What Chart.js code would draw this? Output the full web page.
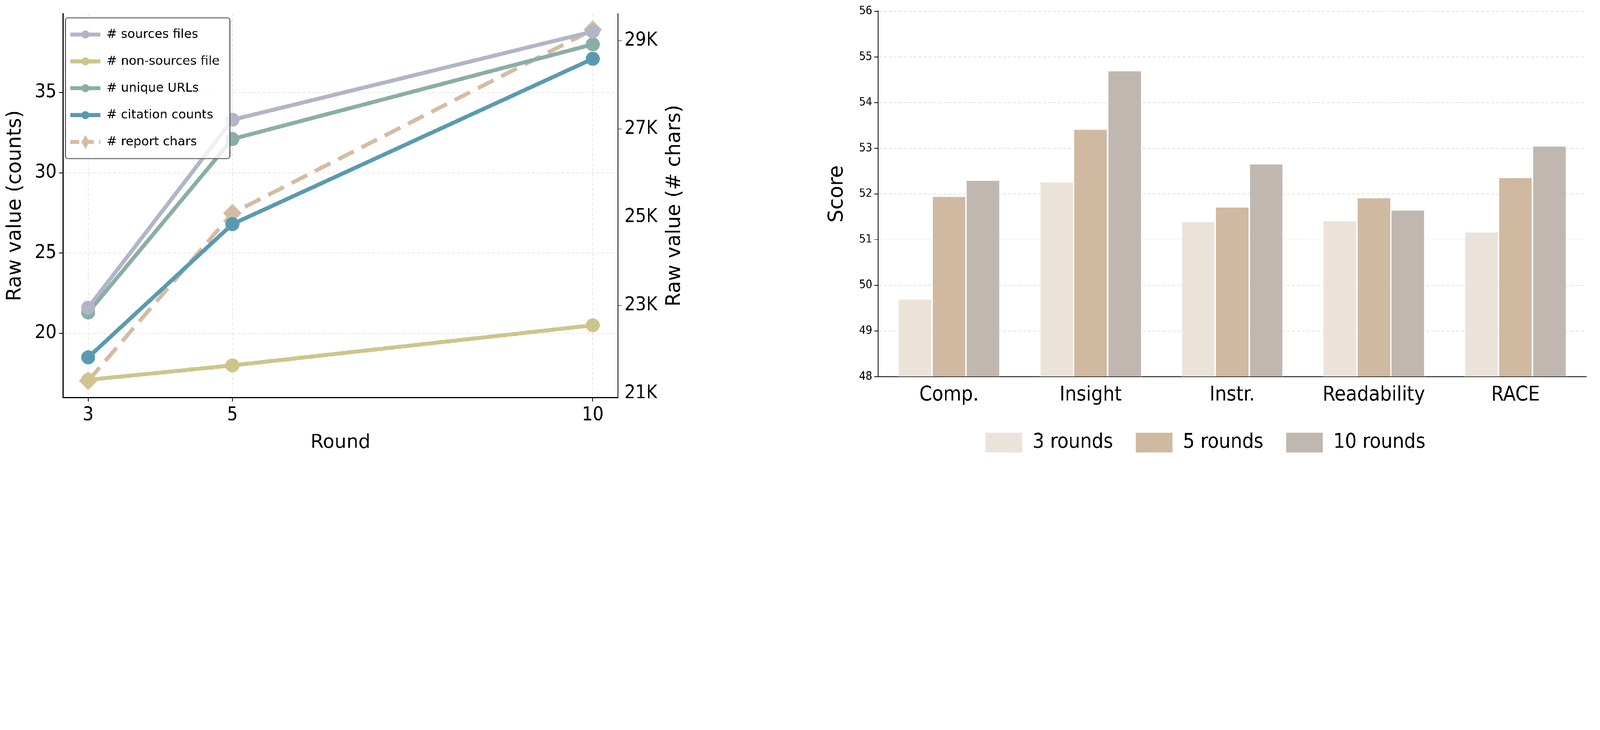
<!DOCTYPE html>
<html lang="en">
<head>
<meta charset="UTF-8"/>
<title>Rounds</title>
<style>
  body { margin: 0; background: #fff; overflow: hidden; }
  #wrap { position: absolute; left: 0; top: 0; width: 6426px; height: 1870px; transform-origin: 0 0; }
  #left { position: absolute; left: 0; top: 0; }
  #right { position: absolute; left: 3300px; top: 0; }
</style>
<script src="https://cdn.jsdelivr.net/npm/chart.js"></script>
</head>
<body>
<div id="wrap">
<canvas id="left" width="2760" height="1870"></canvas>
<canvas id="right" width="3126" height="1870"></canvas>
</div>
<script>
// left chart data
const rounds = [3, 5, 10];
const sourcesFiles = [21.6, 33.3, 38.8];
const nonSourcesFiles = [17.1, 18.0, 20.5];
const uniqueUrls = [21.3, 32.1, 38.0];
const citationCounts = [18.5, 26.8, 37.1];
const reportChars = [21290, 25090, 29250];
const charTicks = [21000, 23000, 25000, 27000, 29000];

// right chart data
const metrics = ['Comp.', 'Insight', 'Instr.', 'Readability', 'RACE'];
const score3 = [49.7, 52.27, 51.4, 51.42, 51.17];
const score5 = [51.95, 53.42, 51.72, 51.92, 52.36];
const score10 = [52.3, 54.7, 52.66, 51.65, 53.05];

// fit the 6426x1870 design into whatever window we get
const sc = Math.min(window.innerWidth / 6426, window.innerHeight / 1870);
document.getElementById('wrap').style.transform = 'scale(' + sc + ')';

const FONT = "'DejaVu Sans Condensed', 'DejaVu Sans', sans-serif";
const FONT_W = "'DejaVu Sans', sans-serif";
Chart.defaults.font.family = FONT;
Chart.defaults.color = '#000';

const pts = arr => arr.map((v, i) => ({x: rounds[i], y: v}));
const line = (label, data, color, axis, extra) => Object.assign({
  label, data: pts(data), borderColor: color, backgroundColor: color,
  borderWidth: 16, pointRadius: 20, pointHoverRadius: 20, yAxisID: axis, tension: 0
}, extra || {});

// legend inside plot (top left) + right axis title reading upwards
const leftExtras = {
  id: 'leftExtras',
  afterDraw(chart) {
    const c = chart.ctx, a = chart.chartArea;
    const x0 = a.left + 10, y0 = a.top + 16, w = 660, rowH = 108, h = rowH * 5 + 26;
    c.save();
    c.fillStyle = 'rgba(255,255,255,0.8)';
    c.strokeStyle = '#666'; c.lineWidth = 4;
    c.beginPath(); c.roundRect(x0, y0, w, h, 10); c.fill(); c.stroke();
    c.font = '50px ' + FONT_W; c.textBaseline = 'middle';
    chart.data.datasets.forEach((d, i) => {
      const cy = y0 + 13 + rowH * i + rowH / 2;
      c.strokeStyle = d.borderColor; c.lineWidth = 16;
      c.setLineDash(d.borderDash ? [36, 22] : []);
      c.beginPath(); c.moveTo(x0 + 20, cy); c.lineTo(x0 + 140, cy); c.stroke();
      c.setLineDash([]);
      c.fillStyle = d.backgroundColor;
      c.beginPath();
      if (d.pointStyle === 'rectRot') {
        c.moveTo(x0 + 80, cy - 28); c.lineTo(x0 + 96, cy); c.lineTo(x0 + 80, cy + 28); c.lineTo(x0 + 64, cy);
      } else c.arc(x0 + 80, cy, 16, 0, Math.PI * 2);
      c.fill();
      c.fillStyle = '#000';
      c.fillText(d.label, x0 + 165, cy);
    });
    c.translate(2710, (a.top + a.bottom) / 2);
    c.rotate(-Math.PI / 2);
    c.textAlign = 'center'; c.font = '80px ' + FONT_W;
    c.fillText('Raw value (# chars)', 0, 0);
    c.restore();
  }
};

new Chart(document.getElementById('left'), {
  type: 'line',
  data: { datasets: [
    line('# sources files', sourcesFiles, '#b1b5c8', 'y'),
    line('# non-sources file', nonSourcesFiles, '#cdc68a', 'y'),
    line('# unique URLs', uniqueUrls, '#8aaea5', 'y'),
    line('# citation counts', citationCounts, '#5a9ab0', 'y'),
    line('# report chars', reportChars, '#d4bca3', 'y2',
      {borderDash: [70, 35], pointStyle: 'rectRot', pointRadius: 26, pointHoverRadius: 26})
  ]},
  options: {
    responsive: false, animation: false, devicePixelRatio: 1,
    layout: { padding: { left: 10, top: 33, right: 110, bottom: 40 } },
    plugins: { legend: { display: false }, tooltip: { enabled: false } },
    scales: {
      x: {
        type: 'linear', min: 2.65, max: 10.35,
        afterBuildTicks: s => { s.ticks = rounds.map(v => ({value: v})); },
        grid: { color: '#e6e6e6', lineWidth: 3, tickColor: '#000', tickLength: 16 },
        border: { color: '#000', width: 4, dash: [12, 8] },
        ticks: { font: { size: 76 }, padding: 10 },
        title: { display: true, text: 'Round', font: { size: 76, family: FONT_W }, padding: { top: 10 } }
      },
      y: {
        position: 'left', min: 16.0, max: 39.9,
        afterBuildTicks: s => { s.ticks = [20, 25, 30, 35].map(v => ({value: v})); },
        grid: { color: '#e6e6e6', lineWidth: 3, tickColor: '#000', tickLength: 16 },
        border: { color: '#000', width: 4, dash: [12, 8] },
        ticks: { font: { size: 76 }, padding: 10 },
        title: { display: true, text: 'Raw value (counts)', font: { size: 80, family: FONT_W }, padding: { bottom: 20 } }
      },
      y2: {
        position: 'right', min: 20910, max: 29610,
        afterBuildTicks: s => { s.ticks = charTicks.map(v => ({value: v})); },
        grid: { drawOnChartArea: false, tickColor: '#000', tickLength: 16 },
        border: { color: '#000', width: 4 },
        ticks: { font: { size: 76 }, padding: 10, callback: v => (v / 1000) + 'K' }
      }
    }
  },
  plugins: [leftExtras]
});

new Chart(document.getElementById('right'), {
  type: 'bar',
  data: { labels: metrics, datasets: [
    { label: '3 rounds', data: score3, backgroundColor: '#ebe3da' },
    { label: '5 rounds', data: score5, backgroundColor: '#cfb9a0' },
    { label: '10 rounds', data: score10, backgroundColor: '#c0b8b0' }
  ].map(d => Object.assign(d, { borderColor: '#fff', borderWidth: 3, categoryPercentage: 0.72, barPercentage: 1.0 })) },
  options: {
    responsive: false, animation: false, devicePixelRatio: 1,
    layout: { padding: { left: 10, top: 45, right: 55, bottom: 40 } },
    plugins: {
      tooltip: { enabled: false },
      legend: { position: 'bottom', labels: { font: { size: 82 }, boxWidth: 150, boxHeight: 82, padding: 90 } }
    },
    scales: {
      x: {
        grid: { display: false, tickColor: '#000', tickLength: 16 },
        border: { color: '#000', width: 4 },
        ticks: { font: { size: 82 }, padding: 10 }
      },
      y: {
        min: 48, max: 56,
        grid: { color: '#e0e0e0', lineWidth: 3, tickColor: '#000', tickLength: 16 },
        border: { color: '#000', width: 4, dash: [12, 8] },
        ticks: { stepSize: 1, font: { size: 46 }, padding: 8 },
        title: { display: true, text: 'Score', font: { size: 82, family: FONT_W }, padding: { bottom: 30 } }
      }
    }
  }
});
</script>
</body>
</html>
